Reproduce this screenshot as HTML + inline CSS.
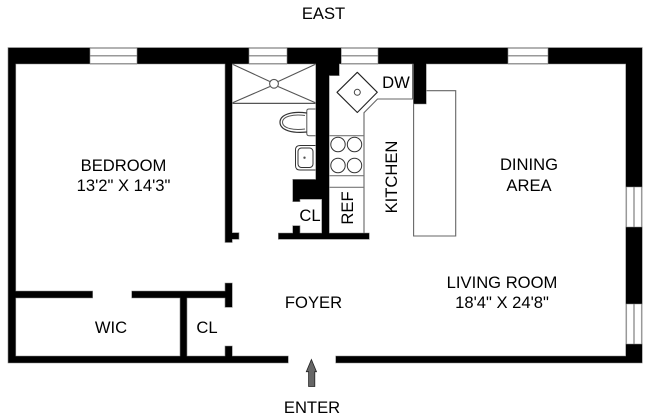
<!DOCTYPE html>
<html>
<head>
<meta charset="utf-8">
<style>
html,body{margin:0;padding:0;background:#fff;width:650px;height:419px;overflow:hidden}
svg{display:block}
text{font-family:"Liberation Sans",Arial,sans-serif;font-size:16.6px;fill:#000;text-anchor:middle}
</style>
</head>
<body>
<svg width="650" height="419" viewBox="0 0 650 419" xmlns="http://www.w3.org/2000/svg">
<!-- windows -->
<g stroke="#999" stroke-width="1.5" fill="none">
<path d="M90 48H137M90 55.7H137M90 63.7H137"/>
<path d="M249 48H287M249 55.7H287M249 63.7H287"/>
<path d="M341 48H378M341 55.7H378M341 63.7H378"/>
<path d="M508 48H548M508 55.7H548M508 63.7H548"/>
<path d="M626.3 187V227M634 187V227M641.7 187V227"/>
<path d="M626.3 304V344M634 304V344M641.7 304V344"/>
</g>
<!-- fixtures -->
<g fill="none" stroke="#555" stroke-width="1">
<path d="M232 64L269.8 81.5M278.2 81.5L316 64M232 103L270 86.5M278 86.5L316 103" stroke-width="1.1"/>
<path d="M232 103.4H316" stroke-width="1.2"/>
<circle cx="274" cy="83.8" r="4.4" stroke-width="1.1"/>
<path d="M316 109H309Q306.8 109 306.8 111V133.5Q306.8 135.7 309 135.7H316"/>
<path d="M306.8 113C293 111 280 114 280 122.3C280 130.5 293 133.5 306.8 132" stroke="#333" stroke-width="1.2"/>
<path d="M305 115.5C294 114 282.5 116 282.5 122.3C282.5 128.5 294 130.5 305 129" stroke="#555"/>
<path d="M316 145.5H300Q295.5 145.5 295.5 150V165.5Q295.5 170 300 170H316" stroke="#333"/>
<rect x="298" y="148" width="15" height="19.5" rx="3.5" stroke="#333"/>
<circle cx="304.5" cy="157.7" r="0.7" fill="#333"/>
<path d="M357.3 72.3L377.3 92.3L357.3 112.5L337 92.3Z" stroke="#222" stroke-linejoin="round" stroke-width="1.1"/>
<circle cx="357.3" cy="92.3" r="3" stroke="#444"/>
<path d="M412.6 64V99H377.5L364 112.7V233" stroke="#666" stroke-width="1.1"/>
<path d="M329 135.7H364M329 175.7H364M329 187.3H364" stroke="#777" stroke-width="1.1"/>
<circle cx="338" cy="144.5" r="7.2" stroke="#333"/>
<circle cx="354.5" cy="144.5" r="7.2" stroke="#333"/>
<circle cx="338" cy="165.5" r="7.2" stroke="#333"/>
<circle cx="354.5" cy="165.5" r="7.2" stroke="#333"/>
<path d="M426 90.7H455.7V236H413.6V104" stroke="#666" stroke-width="1.1"/>
</g>
<!-- walls -->
<g fill="#000" stroke="#888" stroke-width="0.6">
<path d="M8 47.6H90V64H15.8V291H92.7V298H15.8V356H180V298H131.7V291H225V283H232.3V307.3H225V298H187V356H225V346H232.3V356H288.3V363H8Z"/>
<path d="M137 47.6H249V64H232.3V232.7H239V239.3H232.3V242.5H225V64H137Z"/>
<path d="M287 47.6H341.3V64H339.3V75.7H329.3V179.3H329.3V233H369.3V239.3H278.3V233H292.7V225.7H300V233H321.7V199.3H300V201.7H292.7V179.3H315.7V64H287Z"/>
<path d="M378 47.6H508V64H426.3V104H413.3V64H378Z"/>
<path d="M548 47.6H642.3V187H625.7V64H548Z"/>
<path d="M625.7 227H642.3V304H625.7Z"/>
<path d="M625.7 344H642.3V363H335.7V356H625.7Z"/>
</g>
<!-- arrow -->
<path d="M311.4 359.5L316.5 371.7H314.8V386.5H308.6V371.7H306.3Z" fill="#666" stroke="#222" stroke-width="0.8"/>
<!-- labels -->
<text x="323.5" y="19">EAST</text>
<text x="123.5" y="171">BEDROOM</text>
<text x="123.5" y="191">13'2" X 14'3"</text>
<text x="529" y="170">DINING</text>
<text x="529" y="191">AREA</text>
<text x="502" y="288">LIVING ROOM</text>
<text x="502" y="308">18'4" X 24'8"</text>
<text x="313.5" y="308">FOYER</text>
<text x="111" y="333">WIC</text>
<text x="207" y="333">CL</text>
<text x="310" y="221">CL</text>
<text x="396" y="88">DW</text>
<text x="312" y="413">ENTER</text>
<text transform="translate(353,208) rotate(-90)">REF</text>
<text transform="translate(397,177) rotate(-90)">KITCHEN</text>
</svg>
</body>
</html>
